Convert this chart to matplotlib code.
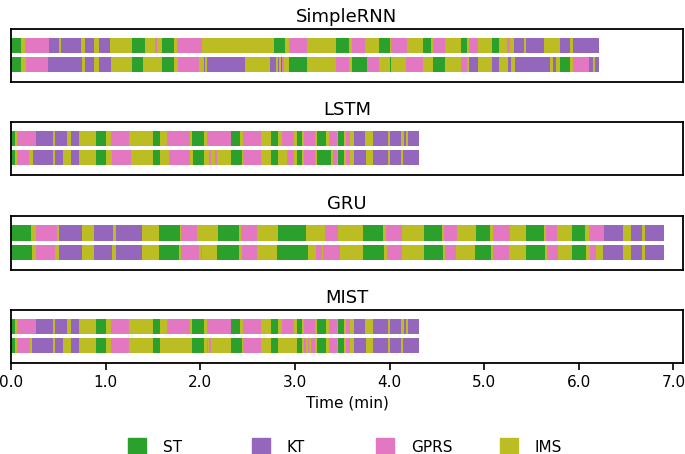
import matplotlib
matplotlib.use("Agg")
import matplotlib.pyplot as plt
from matplotlib.lines import Line2D

# state codes: S = ST, K = KT, G = GPRS, I = IMS
labels = ["ST", "KT", "GPRS", "IMS"]
colors = {"S": "#2ca02c", "K": "#9467bd", "G": "#e377c2", "I": "#bcbd22"}
titles = ["SimpleRNN", "LSTM", "GRU", "MIST"]

# each row: sequence of states and the end time (min) of each segment
rnn_top_states = "SIGKIKIKIKISIGISIGISIGISIGISIGISIGISIGISIGIKIKIKIK"
rnn_top_ends = [0.11, 0.148, 0.40, 0.51, 0.53, 0.743, 0.78, 0.88, 0.93, 1.05,
                1.277, 1.42, 1.52, 1.545, 1.60, 1.72, 1.75, 2.02, 2.78, 2.90,
                2.94, 3.13, 3.43, 3.57, 3.60, 3.74, 3.89, 4.00, 4.02, 4.185,
                4.35, 4.44, 4.46, 4.59, 4.75, 4.82, 4.84, 4.93, 5.08, 5.16,
                5.24, 5.27, 5.31, 5.42, 5.44, 5.63, 5.80, 5.91, 5.94, 6.21]
rnn_bot_states = "SIGKIKIKISISIGIKIKIKIKISGISIGISGISIGISIGIKIKIKIKIKI"
rnn_bot_ends = [0.11, 0.155, 0.387, 0.746, 0.78, 0.88, 0.93, 1.052, 1.277, 1.39,
                1.60, 1.72, 1.77, 1.985, 2.04, 2.05, 2.07, 2.47, 2.735, 2.80,
                2.82, 2.83, 2.85, 2.86, 2.89, 2.94, 3.13, 3.43, 3.57, 3.60,
                3.76, 3.89, 4.00, 4.02, 4.17, 4.35, 4.46, 4.59, 4.75, 4.82,
                4.84, 4.93, 5.08, 5.16, 5.25, 5.28, 5.33, 5.70, 5.73, 5.76,
                5.80, 5.91, 5.94, 6.11, 6.15, 6.17, 6.21]

lstm_top_states = "SIGKIKIKISIGISIGISIGSIGISIGISIGISIGISIGIKIKIKIKIK"
lstm_top_ends = [0.04, 0.067, 0.26, 0.44, 0.47, 0.59, 0.634, 0.715, 0.90, 1.003,
                 1.06, 1.246, 1.50, 1.573, 1.644, 1.89, 1.915, 2.04, 2.07, 2.33,
                 2.425, 2.45, 2.64, 2.75, 2.82, 2.86, 2.99, 3.02, 3.08, 3.10,
                 3.21, 3.23, 3.33, 3.36, 3.45, 3.46, 3.52, 3.545, 3.58, 3.625,
                 3.745, 3.83, 3.98, 4.00, 4.125, 4.15, 4.17, 4.20, 4.31]
lstm_bot_states = "SIGIKIKIKISIGISIGISIGIGISIGISIGISIGISIGISIGIKIKIKIK"
lstm_bot_ends = [0.04, 0.067, 0.19, 0.236, 0.44, 0.47, 0.553, 0.634, 0.715, 0.90,
                 1.003, 1.066, 1.264, 1.50, 1.573, 1.672, 1.89, 1.92, 2.04, 2.094,
                 2.11, 2.154, 2.172, 2.323, 2.436, 2.45, 2.64, 2.75, 2.82, 2.92,
                 2.99, 3.02, 3.08, 3.10, 3.21, 3.23, 3.38, 3.40, 3.45, 3.46,
                 3.52, 3.545, 3.585, 3.625, 3.755, 3.83, 3.98, 4.00, 4.125, 4.14,
                 4.31]

gru_top_states = "SIGIKIKIKISIGISIGISIGISIGISIGISIGISIGISIGKIKIK"
gru_top_ends = [0.211, 0.264, 0.482, 0.51, 0.753, 0.88, 1.08, 1.115, 1.38, 1.566,
                1.785, 1.80, 1.967, 2.19, 2.41, 2.43, 2.595, 2.82, 3.12, 3.316,
                3.456, 3.72, 3.93, 3.967, 4.13, 4.36, 4.555, 4.58, 4.71, 4.91,
                5.065, 5.09, 5.27, 5.44, 5.63, 5.657, 5.77, 5.93, 6.07, 6.11,
                6.27, 6.466, 6.55, 6.67, 6.70, 6.905]
gru_bot_states = "SIGIKIKIKISIGIGISIGISIGIGISIGISIGISIGISIGISIGIKIKIK"
gru_bot_ends = [0.218, 0.264, 0.465, 0.51, 0.753, 0.88, 1.063, 1.115, 1.38, 1.563,
                1.778, 1.80, 1.985, 2.005, 2.02, 2.18, 2.41, 2.44, 2.60, 2.81,
                3.14, 3.22, 3.29, 3.30, 3.48, 3.72, 3.94, 3.97, 4.13, 4.36,
                4.56, 4.59, 4.70, 4.90, 5.07, 5.09, 5.26, 5.44, 5.64, 5.66,
                5.78, 5.93, 6.08, 6.12, 6.18, 6.26, 6.466, 6.55, 6.67, 6.70,
                6.905]

mist_top_states = "SIGKIKIKISIGISIGISIGSIGISIGISIGISIGISIGIKIKIKIKIK"
mist_top_ends = [0.04, 0.067, 0.26, 0.44, 0.47, 0.59, 0.634, 0.715, 0.90, 1.003,
                 1.06, 1.246, 1.50, 1.573, 1.644, 1.89, 1.915, 2.04, 2.07, 2.33,
                 2.425, 2.45, 2.64, 2.75, 2.82, 2.86, 2.99, 3.02, 3.08, 3.10,
                 3.21, 3.23, 3.33, 3.36, 3.45, 3.46, 3.52, 3.545, 3.58, 3.625,
                 3.745, 3.83, 3.98, 4.00, 4.125, 4.15, 4.17, 4.20, 4.31]
mist_bot_states = "SIGIKIKIKISIGISISIGIGISIGISISIGIGIGISIGISIGIKIKIKIK"
mist_bot_ends = [0.04, 0.067, 0.197, 0.226, 0.44, 0.47, 0.553, 0.634, 0.715, 0.90,
                 1.003, 1.06, 1.246, 1.50, 1.573, 1.915, 2.04, 2.07, 2.085, 2.095,
                 2.11, 2.323, 2.436, 2.45, 2.64, 2.75, 2.82, 3.02, 3.08, 3.10,
                 3.115, 3.135, 3.15, 3.165, 3.21, 3.23, 3.33, 3.36, 3.45, 3.46,
                 3.52, 3.545, 3.585, 3.625, 3.755, 3.83, 3.98, 4.00, 4.125, 4.14,
                 4.31]

panels = [
    [(rnn_top_states, rnn_top_ends), (rnn_bot_states, rnn_bot_ends)],
    [(lstm_top_states, lstm_top_ends), (lstm_bot_states, lstm_bot_ends)],
    [(gru_top_states, gru_top_ends), (gru_bot_states, gru_bot_ends)],
    [(mist_top_states, mist_top_ends), (mist_bot_states, mist_bot_ends)],
]

fig = plt.figure(figsize=(6.85, 4.54), dpi=100)
boxes = [(0.819, 0.936), (0.615, 0.731), (0.405, 0.524), (0.200, 0.317)]

for i, (rows, (b, t)) in enumerate(zip(panels, boxes)):
    ax = fig.add_axes([0.016, b, 0.981, t - b])
    for y, (states, ends) in zip([1, 0], rows):
        lefts = [0.0] + ends[:-1]
        widths = [e - l for e, l in zip(ends, lefts)]
        cols = [colors[s] for s in states]
        ax.barh(y, widths, left=lefts, color=cols, height=0.8, linewidth=0)
    ax.set_xlim(0, 7.1)
    ax.set_ylim(-0.92, 1.87)
    ax.set_yticks([])
    ax.set_title(titles[i], fontsize=13, pad=5)
    for sp in ax.spines.values():
        sp.set_linewidth(1.3)
    if i < 3:
        ax.set_xticks([])
    else:
        ax.set_xticks(range(8))
        ax.set_xticklabels(["%.1f" % v for v in range(8)], fontsize=11)
        ax.tick_params(axis="x", length=5, width=1.2)
        ax.set_xlabel("Time (min)", fontsize=11)

# legend drawn item by item, evenly spaced as in the original
leg_y = 1 - 447 / 454
for k, (code, lab) in enumerate(zip("SKGI", labels)):
    x0 = (137 + 124 * k) / 685
    fig.add_artist(Line2D([x0], [leg_y], marker="s", linestyle="", markersize=12.5,
                          color=colors[code], transform=fig.transFigure))
    fig.text(x0 + 26 / 685, leg_y, lab, fontsize=11, ha="left", va="center")

fig.savefig("out.png", dpi=100)
